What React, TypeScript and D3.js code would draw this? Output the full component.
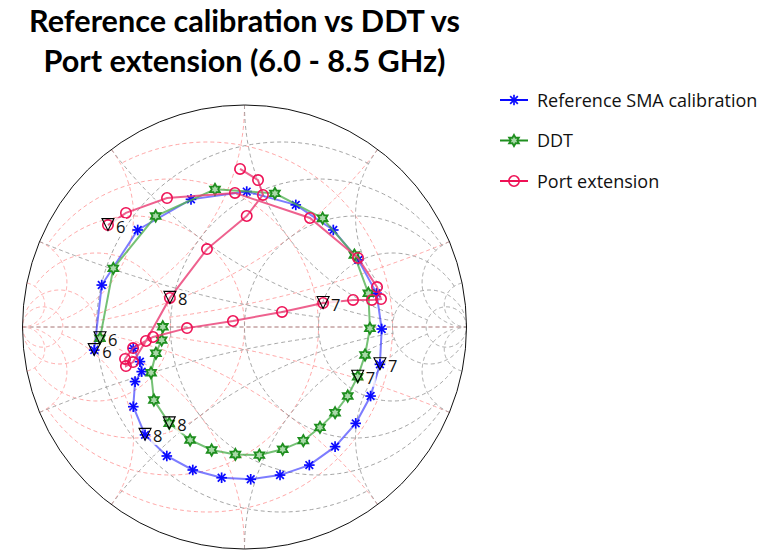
import React from "react";
import * as d3 from "d3";

// ---- Data (reflection coefficient) ----
const freqsGHz = [6.0,6.1,6.2,6.3,6.4,6.5,6.6,6.7,6.8,6.9,7.0,7.1,7.2,7.3,7.4,7.5,7.6,7.7,7.8,7.9,8.0,8.1,8.2,8.3,8.4,8.5];

const refRe = [-0.677,-0.643,-0.481,-0.241,0.010,0.231,0.400,0.513,0.595,0.618,0.610,0.568,0.501,0.408,0.292,0.160,0.028,-0.103,-0.233,-0.350,-0.448,-0.501,-0.493,-0.463,-0.471,-0.501];
const refIm = [-0.104,0.189,0.437,0.575,0.610,0.550,0.437,0.302,0.152,-0.009,-0.168,-0.311,-0.434,-0.539,-0.622,-0.667,-0.686,-0.679,-0.644,-0.581,-0.486,-0.359,-0.246,-0.201,-0.156,-0.096];

const ddtRe = [-0.651,-0.591,-0.400,-0.133,0.137,0.352,0.495,0.558,0.565,0.543,0.510,0.465,0.408,0.340,0.265,0.172,0.067,-0.041,-0.148,-0.245,-0.339,-0.408,-0.421,-0.399,-0.373,-0.368];
const ddtIm = [-0.051,0.264,0.500,0.620,0.602,0.490,0.324,0.152,-0.006,-0.126,-0.224,-0.311,-0.386,-0.452,-0.512,-0.551,-0.577,-0.574,-0.554,-0.509,-0.434,-0.329,-0.206,-0.118,-0.059,0.001];

const portRe = [-0.615,-0.534,-0.349,-0.043,0.295,0.511,0.597,0.615,0.574,0.489,0.354,0.169,-0.052,-0.259,-0.412,-0.502,-0.538,-0.534,-0.502,-0.444,-0.336,-0.169,0.010,0.083,0.061,-0.020];
const portIm = [0.459,0.514,0.581,0.604,0.491,0.311,0.180,0.126,0.122,0.122,0.108,0.068,0.027,-0.005,-0.045,-0.095,-0.144,-0.176,-0.158,-0.063,0.131,0.351,0.500,0.595,0.662,0.712];

const seriesNames = ["Reference SMA calibration", "DDT", "Port extension"];
const markerFreqs = [6, 7, 8];

// Smith grid values (row 1: values, row 2: end points)
const gridValues = [10, 5, 2, 1, 0.5, 0.2];
const gridEnds = [Infinity, 30, 10, 5, 5, 2];

const titleLines = ["Reference calibration vs DDT vs", "Port extension (6.0 - 8.5 GHz)"];

// ---- Layout ----
const W = 763, H = 555;
const CX = 244.5, CY = 327, R = 222;

type C = [number, number];
const gam = (r: number, x: number): C => {
  const nr = r - 1, ni = x, dr = r + 1, di = x;
  const den = dr * dr + di * di;
  return [(nr * dr + ni * di) / den, (ni * dr - nr * di) / den];
};

function rCircle(r: number, e: number, N = 240): C[] {
  const c = r / (1 + r), rho = 1 / (1 + r);
  let th0 = 0;
  if (isFinite(e)) {
    const g = gam(r, e);
    th0 = Math.atan2(g[1], g[0] - c);
  }
  const pts: C[] = [];
  for (let i = 0; i <= N; i++) {
    const t = th0 + (2 * Math.PI - 2 * th0) * (i / N);
    pts.push([c + rho * Math.cos(t), rho * Math.sin(t)]);
  }
  return pts;
}

function xArc(x: number, e: number, N = 200): C[] {
  const cx = 1, cy = 1 / x, rho = Math.abs(1 / x);
  const g0 = gam(0, x);
  const g1: C = isFinite(e) ? gam(e, x) : [1, 0];
  const a0 = Math.atan2(g0[1] - cy, g0[0] - cx);
  const a1 = Math.atan2(g1[1] - cy, g1[0] - cx);
  let d = a1 - a0;
  while (d > Math.PI) d -= 2 * Math.PI;
  while (d < -Math.PI) d += 2 * Math.PI;
  const pts: C[] = [];
  for (let i = 0; i <= N; i++) {
    const t = a0 + d * (i / N);
    pts.push([cx + rho * Math.cos(t), cy + rho * Math.sin(t)]);
  }
  return pts;
}

function starPath(cx: number, cy: number, ro: number, ri: number, n: number, rot: number) {
  let s = "";
  for (let i = 0; i < 2 * n; i++) {
    const rr = i % 2 === 0 ? ro : ri;
    const a = rot + (i * Math.PI) / n;
    s += (i === 0 ? "M" : "L") + (cx + rr * Math.cos(a)).toFixed(2) + "," + (cy + rr * Math.sin(a)).toFixed(2);
  }
  return s + "Z";
}

function Marker({ kind, x, y, color }: { kind: number; x: number; y: number; color: string }) {
  if (kind === 0) {
    const s = 5.3;
    const d = s * 0.72;
    return (
      <g stroke={color} strokeWidth={1.7}>
        <line x1={x - s} y1={y} x2={x + s} y2={y} />
        <line x1={x} y1={y - s} x2={x} y2={y + s} />
        <line x1={x - d} y1={y - d} x2={x + d} y2={y + d} />
        <line x1={x - d} y1={y + d} x2={x + d} y2={y - d} />
      </g>
    );
  }
  if (kind === 1) {
    return (
      <path d={starPath(x, y, 5.6, 3.2, 6, -Math.PI / 2)} fill="#a9d9a9" stroke={color} strokeWidth={1.8} strokeLinejoin="miter" />
    );
  }
  return <circle cx={x} cy={y} r={5.2} fill="none" stroke={color} strokeWidth={1.6} />;
}

export default function App() {
  const xs = d3.scaleLinear().domain([-1, 1]).range([CX - R, CX + R]);
  const ys = d3.scaleLinear().domain([-1, 1]).range([CY + R, CY - R]);
  const line = d3.line<C>().x((d) => xs(d[0])).y((d) => ys(d[1]));
  const mirror = (pts: C[]): C[] => pts.map((p) => [-p[0], -p[1]] as C);

  const zPaths: string[] = [];
  const yPaths: string[] = [];
  gridValues.forEach((v, i) => {
    const e = gridEnds[i];
    const parts = [rCircle(v, e), xArc(v, e), xArc(-v, e)];
    parts.forEach((p) => {
      zPaths.push(line(p)!);
      yPaths.push(line(mirror(p))!);
    });
  });

  const series = [
    { re: refRe, im: refIm, color: "#0a0aff", lineColor: "#3535ff", lineOpacity: 0.65 },
    { re: ddtRe, im: ddtIm, color: "#1f8f1f", lineColor: "#52b152", lineOpacity: 0.8 },
    { re: portRe, im: portIm, color: "#ee1155", lineColor: "#ea3a72", lineOpacity: 0.8 },
  ];

  const legendY = [100, 140.5, 181];

  return (
    <svg width={W} height={H} style={{ position: "absolute", left: 0, top: 0, background: "#fff" }}>
      <rect x={0} y={0} width={W} height={H} fill="#fff" />
      {titleLines.map((t, i) => (
        <text key={i} x={CX} y={31.5 + i * 40} textAnchor="middle" fontFamily="Lato, 'Open Sans', sans-serif" fontWeight={700} fontSize={30.6} fill="#000">
          {t}
        </text>
      ))}
      <g fill="none" strokeWidth={0.9} strokeDasharray="4,3">
        {yPaths.map((d, i) => (
          <path key={"y" + i} d={d} stroke="#ff9c9c" />
        ))}
        <line x1={xs(-1)} y1={ys(0)} x2={xs(1)} y2={ys(0)} stroke="#ff9c9c" />
        {zPaths.map((d, i) => (
          <path key={"z" + i} d={d} stroke="#9a9a9a" />
        ))}
        <line x1={xs(-1)} y1={ys(0)} x2={xs(1)} y2={ys(0)} stroke="#9a9a9a" />
      </g>
      <circle cx={CX} cy={CY} r={R} fill="none" stroke="#111" strokeWidth={1} />

      {series.map((s, k) => {
        const pts: C[] = s.re.map((r, i) => [r, s.im[i]]);
        return (
          <g key={k}>
            <path d={line(pts)!} fill="none" stroke={s.lineColor} strokeOpacity={s.lineOpacity} strokeWidth={2} />
            {pts.map((p, i) => (
              <Marker key={i} kind={k} x={xs(p[0])} y={ys(p[1])} color={s.color} />
            ))}
          </g>
        );
      })}

      {series.map((s, k) =>
        markerFreqs.map((f) => {
          const i = freqsGHz.findIndex((v) => Math.abs(v - f) < 1e-6);
          const px = xs(s.re[i]);
          const py = ys(s.im[i]);
          return (
            <g key={k + "-" + f}>
              <rect x={px + 6} y={py - 7} width={12} height={17} fill="#fff" fillOpacity={0.8} />
              <path d={`M${px - 6},${py - 6.5}L${px + 6},${py - 6.5}L${px},${py + 5.5}Z`} fill="none" stroke="#000" strokeWidth={1.1} />
              <text x={px + 8} y={py + 7.5} fontFamily="'Open Sans', sans-serif" fontSize={16.5} fill="#111">
                {String(f)}
              </text>
            </g>
          );
        })
      )}

      {seriesNames.map((n, k) => {
        const s = series[k];
        const y = legendY[k];
        return (
          <g key={n}>
            <line x1={500} y1={y} x2={528} y2={y} stroke={s.color} strokeWidth={2} />
            <Marker kind={k} x={514} y={y} color={s.color} />
            <text x={537} y={y + 6.5} fontFamily="'Open Sans', sans-serif" fontSize={18} fill="#111">
              {n}
            </text>
          </g>
        );
      })}
    </svg>
  );
}
